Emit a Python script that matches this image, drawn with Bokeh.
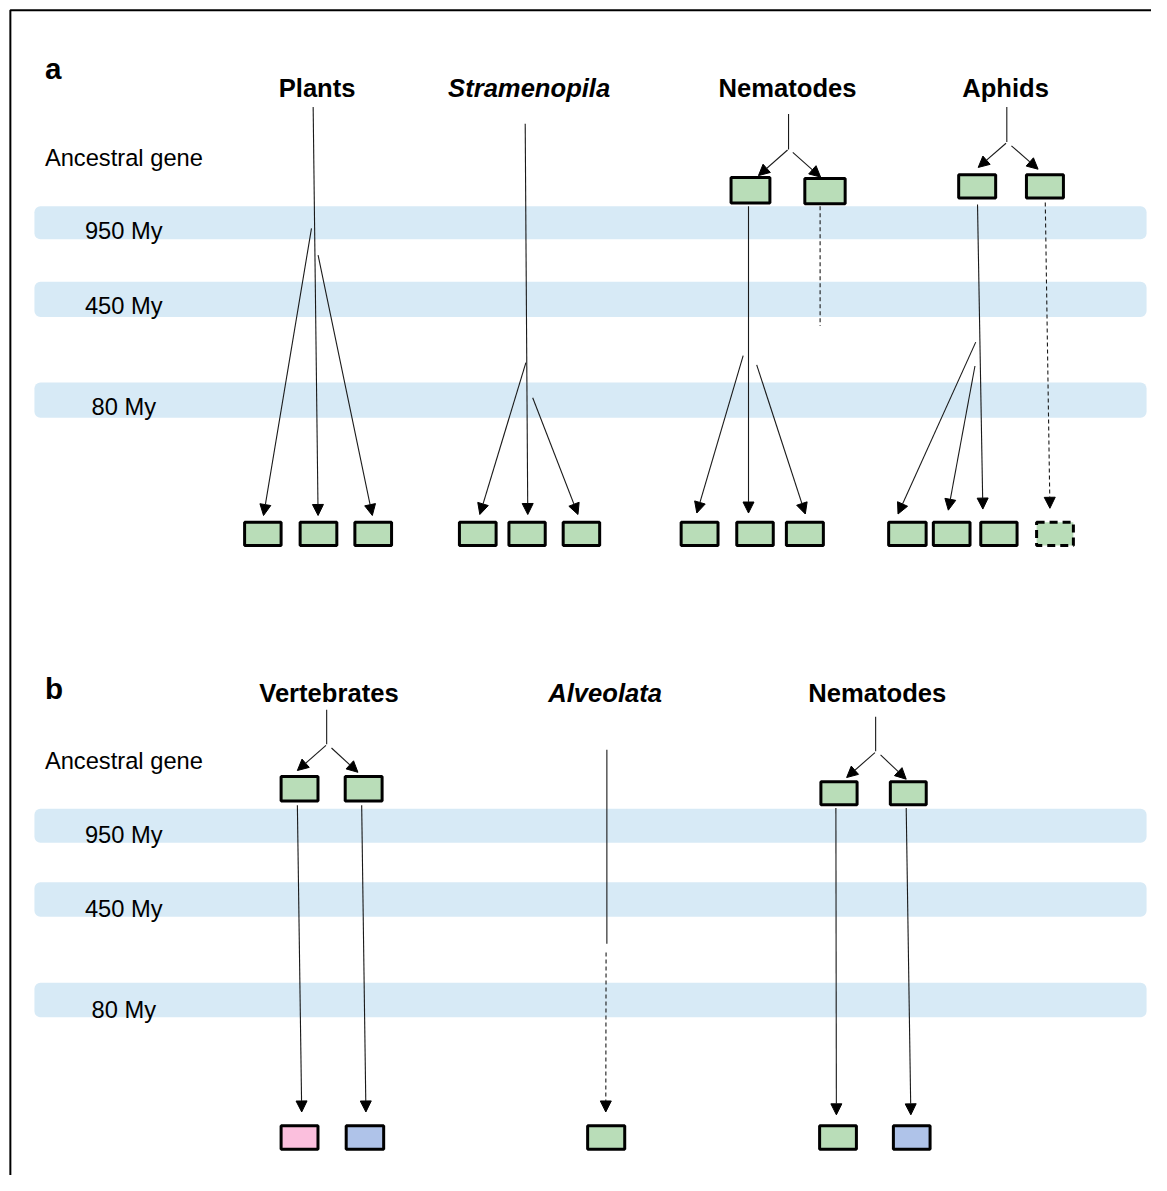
from bokeh.plotting import figure
from bokeh.models import Range1d, Arrow, NormalHead, ColumnDataSource
from bokeh.core.properties import value
from bokeh.embed import file_html
from bokeh.resources import INLINE

FONT = "Liberation Sans"

# ---------------- data ----------------
panel_labels = ["a", "b"]
time_labels = ["950 My", "450 My", "80 My"]
ancestral_label = "Ancestral gene"

# panel a
groups_a = ["Plants", "Stramenopila", "Nematodes", "Aphids"]
groups_a_italic = [False, True, False, False]
groups_a_x = [321, 536, 798, 1019]
bands_a = [(208.6, 241.9), (285.0, 320.7), (387.3, 423.0)]

# panel b
groups_b = ["Vertebrates", "Alveolata", "Nematodes"]
groups_b_italic = [False, True, False]
groups_b_x = [333, 613, 889]
bands_b = [(819.2, 853.6), (893.7, 928.8), (995.6, 1030.7)]

# arrows: (x0, y0, x1, y1, dashed)
arrows = [
    # Plants
    (317, 108, 322, 522, False),
    (315.3, 231, 266.7, 522, False),
    (322, 258, 377, 522, False),
    # Stramenopila
    (532, 125, 534.6, 521, False),
    (532.7, 367, 486, 521, False),
    (539.6, 402.6, 585.5, 521, False),
    # Nematodes (a)
    (798, 151.5, 768.5, 177.5, False),
    (803.3, 154, 831.5, 179, False),
    (758.4, 208.6, 758.4, 519.5, False),
    (753, 360, 706, 519.5, False),
    (766.7, 369.3, 816, 520.5, False),
    # Aphids
    (1019.5, 144.7, 991.3, 169.2, False),
    (1025, 147.3, 1052, 171, False),
    (990.6, 206.7, 996, 515.5, False),
    (1059.3, 204.7, 1064, 514.7, True),
    (988.8, 346.3, 910, 520.5, False),
    (988, 370.5, 961, 516.6, False),
    # Vertebrates
    (330, 755, 301, 780.5, False),
    (335.6, 757.7, 362.4, 782.3, False),
    (301, 815.7, 305.4, 1126.6, False),
    (366.2, 815.7, 370.5, 1126.6, False),
    # Alveolata
    (614, 965, 613.7, 1126.6, True),
    # Nematodes (b)
    (886.6, 762.3, 857.9, 787.6, False),
    (892.3, 764.7, 918.3, 789.3, False),
    (847, 818.5, 847.5, 1129.5, False),
    (918.3, 818.5, 923, 1129.5, False),
]

# plain lines without heads: (x0, y0, x1, y1, dashed)
stems = [
    (799, 115, 799, 151, False),
    (831, 208.6, 831, 330, True),
    (1020.3, 108, 1020.3, 143.5, False),
    (330.7, 719, 330.7, 754, False),
    (614.8, 759.5, 614.8, 956, False),
    (887.3, 726, 887.3, 761, False),
]

# gene boxes: (x0, x1, y0, y1, colour key, dashed)
boxes = [
    (739.2, 781.6, 178, 206.7, "g", False),
    (814, 857.9, 179, 207.4, "g", False),
    (970, 1010.5, 175, 201.7, "g", False),
    (1038.7, 1079.2, 175, 201.7, "g", False),
    (246, 286, 527.4, 553.8, "g", False),
    (302.3, 342.5, 527.4, 553.8, "g", False),
    (357.8, 398, 527.4, 553.8, "g", False),
    (463.8, 504, 527.4, 553.8, "g", False),
    (514, 553.8, 527.4, 553.8, "g", False),
    (569, 609, 527.4, 553.8, "g", False),
    (688.6, 729, 527.4, 553.8, "g", False),
    (745, 785, 527.4, 553.8, "g", False),
    (795.3, 835.8, 527.4, 553.8, "g", False),
    (899, 940, 527.4, 553.8, "g", False),
    (944.3, 984.5, 527.4, 553.8, "g", False),
    (992.4, 1032.2, 527.4, 553.8, "g", False),
    (1049, 1089.3, 527.4, 553.8, "g", True),
    (283, 323.4, 785, 813, "g", False),
    (348, 388.4, 785, 813, "g", False),
    (830.3, 870, 790.4, 816.7, "g", False),
    (900.7, 940.1, 790.4, 816.7, "g", False),
    (283, 323.4, 1139, 1166, "p", False),
    (349, 390, 1139, 1166, "b", False),
    (593.8, 634.4, 1139, 1166, "g", False),
    (829, 869.3, 1139, 1166, "g", False),
    (903.8, 944, 1139, 1166, "b", False),
]

colours = {"g": "#B9DDB8", "p": "#FBBFDD", "b": "#AFC3E9"}
BAND = "#D7EAF6"
LINE = "#1a1a1a"

# ---------------- figure ----------------
W, H = 1151, 1175
REF_W, REF_H = 1167, 1191
S = W / REF_W
p = figure(width=W, height=H, x_range=Range1d(0, REF_W), y_range=Range1d(REF_H, 0),
           output_backend="svg", toolbar_location=None, min_border=0,
           x_axis_location=None, y_axis_location=None)
p.grid.visible = False
p.outline_line_color = None
p.background_fill_color = "white"
p.border_fill_color = "white"

def fs(px):
    return f"{px * S:.1f}px"

# frame
p.line([10, 10, 1250], [1300, 10, 10], line_color="black", line_width=2)

# bands
band_rows = bands_a + bands_b
p.quad(left=[34.4] * len(band_rows), right=[1162] * len(band_rows),
       top=[b[0] for b in band_rows], bottom=[b[1] for b in band_rows],
       fill_color=BAND, line_color=None, border_radius=6)

# time labels
tl_base_a = [234, 310, 412.5]
tl_base_b = [845.5, 921, 1023]
p.text(x=[125] * 6, y=tl_base_a + tl_base_b, text=time_labels * 2,
       text_font=value(FONT), text_font_size=fs(24), text_align="center",
       text_baseline="alphabetic", text_color="black")

# ancestral gene labels
p.text(x=[45, 45], y=[160, 771], text=[ancestral_label] * 2,
       text_font=value(FONT), text_font_size=fs(24), text_align="left",
       text_baseline="alphabetic", text_color="black")

# panel letters
p.text(x=[45, 45], y=[69, 697.5], text=panel_labels,
       text_font=value(FONT), text_font_size=fs(30), text_font_style="bold",
       text_align="left", text_baseline="alphabetic", text_color="black")

# group headers
def headers(names, xs, italics, base):
    for n, x, it in zip(names, xs, italics):
        p.text(x=[x], y=[base], text=[n], text_font=value(FONT), text_font_size=fs(26),
               text_font_style="bold italic" if it else "bold",
               text_align="center", text_baseline="alphabetic", text_color="black")

headers(groups_a, groups_a_x, groups_a_italic, 89)
headers(groups_b, groups_b_x, groups_b_italic, 701.5)

# stems
for x0, y0, x1, y1, d in stems:
    p.line([x0, x1], [y0, y1], line_color=LINE, line_width=1.1,
           line_dash="4 3" if d else "solid")

# arrows
for x0, y0, x1, y1, d in arrows:
    p.add_layout(Arrow(x_start=x0, y_start=y0, x_end=x1, y_end=y1,
                       line_color=LINE, line_width=1.1,
                       line_dash="4 3" if d else "solid",
                       end=NormalHead(size=11, fill_color="black", line_color="black",
                                      line_width=1)))

# boxes
inset = 1.5
for dashed in (False, True):
    sel = [b for b in boxes if b[5] == dashed]
    src = ColumnDataSource(dict(
        left=[b[0] + inset for b in sel], right=[b[1] - inset for b in sel],
        top=[b[2] + inset for b in sel], bottom=[b[3] - inset for b in sel],
        fill=[colours[b[4]] for b in sel]))
    p.quad(left="left", right="right", top="top", bottom="bottom", source=src,
           fill_color="fill", line_color="black", line_width=3,
           line_dash="8 5" if dashed else "solid")

open("out.html", "w").write(file_html(p, INLINE))
